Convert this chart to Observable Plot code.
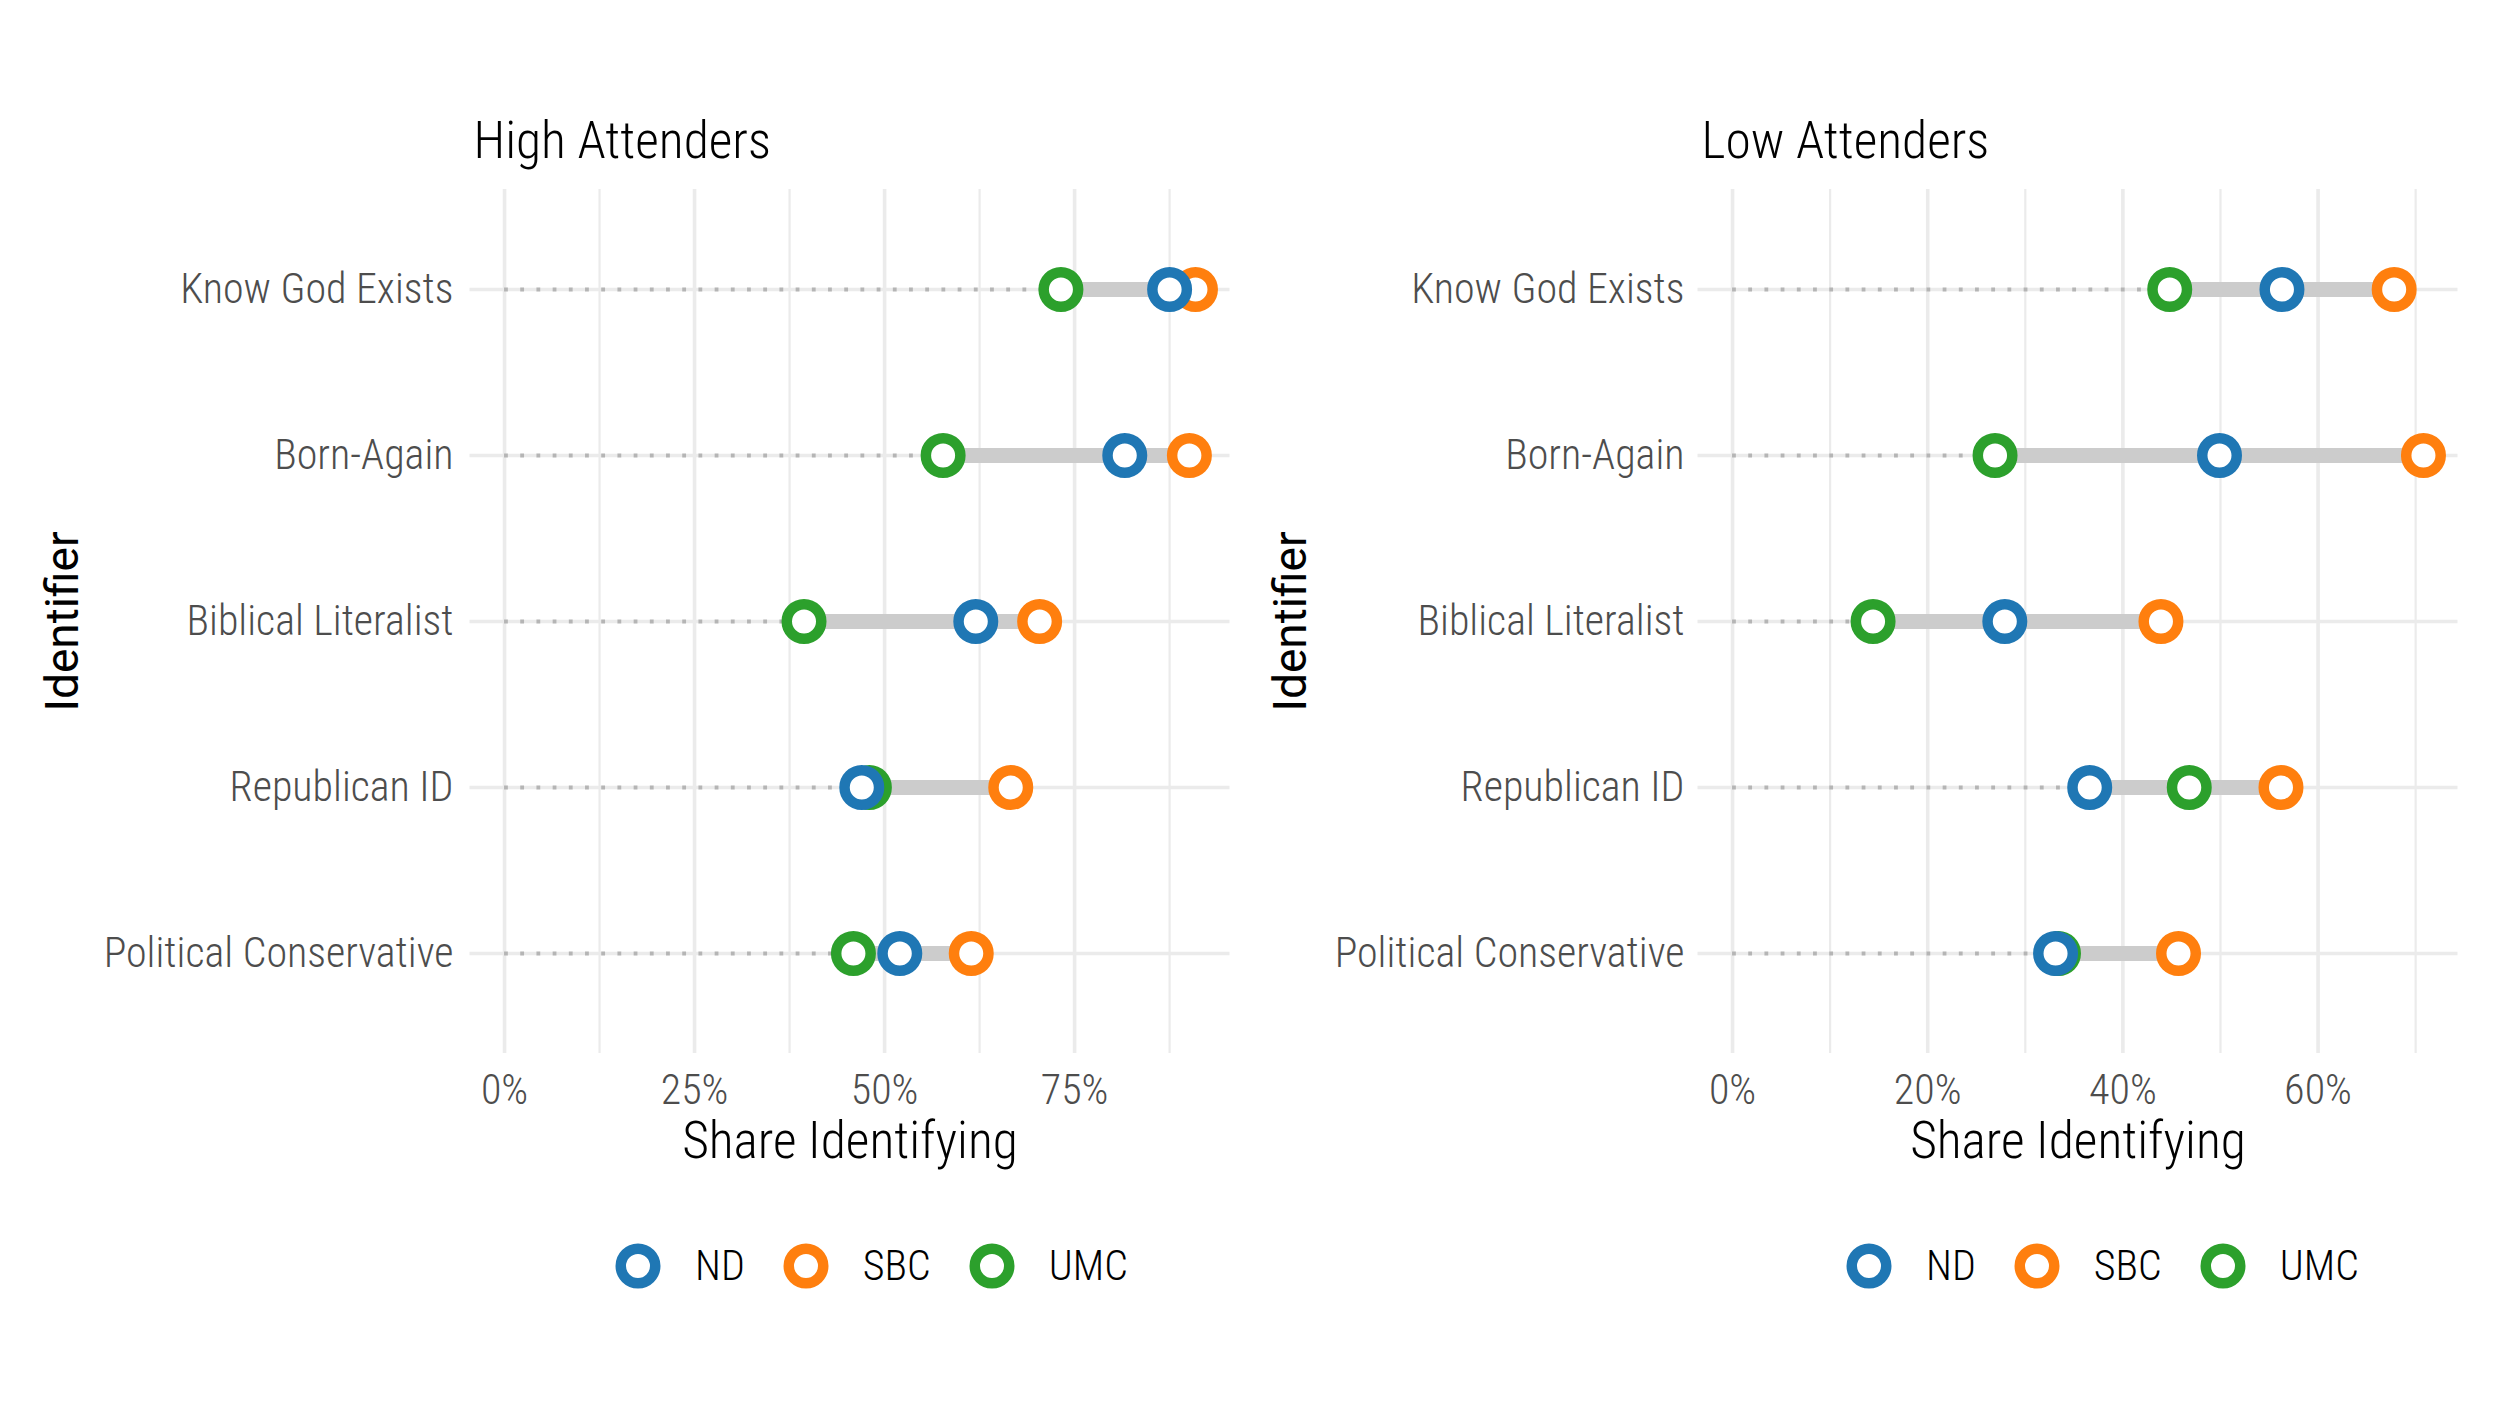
<!DOCTYPE html>
<html>
<head>
<meta charset="utf-8">
<script src="https://cdn.jsdelivr.net/npm/d3@7"></script>
<script src="https://cdn.jsdelivr.net/npm/@observablehq/plot@0.6"></script>
<style>
  html, body { margin: 0; padding: 0; background: white; }
  #root { position: relative; width: 2500px; height: 1420px; overflow: hidden; background: white; }
  #root svg.plotsvg { position: absolute; top: 0; }
  svg { font-stretch: condensed; }
  g[font-family="Roboto, sans-serif"] { font-stretch: normal; }
  .legend { position: absolute; display: flex; align-items: center; font-family: Roboto; font-stretch: condensed; font-weight: 300; font-size: 42px; color: black; }
  .legend .item { display: flex; align-items: center; margin-right: 38px; }
  .legend .item span { margin-left: 34px; }
</style>
</head>
<body>
<div id="root"></div>
<script>
// ---- data ----
const categories = ["Know God Exists", "Born-Again", "Biblical Literalist", "Republican ID", "Political Conservative"];
const groups = ["ND", "SBC", "UMC"];
const groupColors = ["#1f77b4", "#ff7f0e", "#2ca02c"];
const drawOrder = ["UMC", "SBC", "ND"];

// High attenders (share identifying), in category order
const highND  = [0.875, 0.816, 0.620, 0.470, 0.520];
const highSBC = [0.909, 0.901, 0.704, 0.666, 0.614];
const highUMC = [0.732, 0.577, 0.394, 0.480, 0.459];

// Low attenders
const lowND  = [0.563, 0.499, 0.279, 0.366, 0.331];
const lowSBC = [0.678, 0.708, 0.439, 0.562, 0.457];
const lowUMC = [0.448, 0.269, 0.144, 0.468, 0.334];

const highTicks = [0, 0.25, 0.5, 0.75];
const highMinor = [0.125, 0.375, 0.625, 0.875];
const lowTicks = [0, 0.2, 0.4, 0.6];
const lowMinor = [0.1, 0.3, 0.5, 0.7];

const titles = ["High Attenders", "Low Attenders"];
const xLabel = "Share Identifying";
const yLabel = "Identifier";

// ---- drawing ----
const root = document.getElementById("root");
const W = 1250, H = 1420;

function panel({series, ticks, minor, title, left, marginLeft, marginRight, labelPad, titleDx, legendOffset}) {
  const data = [];
  for (const g of drawOrder) {
    categories.forEach((c, i) => data.push({cat: c, group: g, value: series[g][i]}));
  }
  const rows = categories.map((c, i) => ({
    cat: c,
    min: d3.min(groups, g => series[g][i]),
    max: d3.max(groups, g => series[g][i])
  }));
  const vmax = d3.max(data, d => d.value);
  const pad = 0.05 * vmax;

  const chart = Plot.plot({
    width: W, height: H,
    marginLeft, marginRight, marginTop: 189, marginBottom: H - 1053,
    style: "font-family: Roboto; font-weight: 300; font-size: 42px; background: white;",
    x: {domain: [-pad, vmax + pad], label: null},
    y: {type: "point", domain: categories, padding: 0.6, label: null},
    color: {domain: groups, range: groupColors},
    marks: [
      Plot.ruleX(minor, {stroke: "#ebebeb", strokeWidth: 2.2}),
      Plot.ruleX(ticks, {stroke: "#ebebeb", strokeWidth: 3.6}),
      Plot.ruleY(categories, {stroke: "#ebebeb", strokeWidth: 3.6}),
      Plot.ruleY(rows, {y: "cat", x1: 0, x2: "min", stroke: "#b5b5b5", strokeWidth: 3.8, strokeDasharray: "3.8 12.4"}),
      Plot.ruleY(rows, {y: "cat", x1: "min", x2: "max", stroke: "#cccccc", strokeWidth: 15}),
      Plot.dot(data, {x: "value", y: "cat", stroke: "group", fill: "white", r: 17.25, strokeWidth: 10.5}),
      Plot.axisY({tickSize: 0, tickPadding: labelPad, fill: "#4d4d4d", fontSize: 42, label: null}),
      Plot.axisX({ticks, tickSize: 0, tickPadding: 21, tickFormat: d3.format(".0%"), fill: "#4d4d4d", fontSize: 42, label: null}),
      Plot.text([title], {frameAnchor: "top-left", textAnchor: "start", lineAnchor: "bottom", dx: titleDx, dy: -32, fontSize: 51.5, fill: "black"}),
      Plot.text([xLabel], {frameAnchor: "bottom", textAnchor: "middle", lineAnchor: "bottom", dy: 104, fontSize: 51.5, fill: "black"}),
      Plot.text([yLabel], {frameAnchor: "left", textAnchor: "middle", rotate: -90, lineAnchor: "bottom", dx: -392, fontSize: 46, fontFamily: "Roboto, sans-serif", fontWeight: 400, fill: "black"})
    ]
  });
  chart.classList.add("plotsvg");
  chart.style.left = left + "px";
  root.appendChild(chart);

  // legend
  const frameLeft = left + marginLeft;
  const lg = d3.select(root).append("div").attr("class", "legend")
    .style("left", (frameLeft + legendOffset) + "px").style("top", "1241px");
  groups.forEach((g, i) => {
    const item = lg.append("div").attr("class", "item");
    const s = item.append("svg").attr("width", 46).attr("height", 46);
    s.append("circle").attr("cx", 23).attr("cy", 23).attr("r", 17.25)
      .attr("fill", "white").attr("stroke", groupColors[i]).attr("stroke-width", 10.5);
    item.append("span").text(g);
  });
}

panel({series: {ND: highND, SBC: highSBC, UMC: highUMC}, ticks: highTicks, minor: highMinor, title: titles[0],
       left: 0, marginLeft: 469.5, marginRight: 20.5, labelPad: 16.5, titleDx: 3.5, legendOffset: 145.5});
panel({series: {ND: lowND, SBC: lowSBC, UMC: lowUMC}, ticks: lowTicks, minor: lowMinor, title: titles[1],
       left: 1250, marginLeft: 447.5, marginRight: 42.5, labelPad: 13.5, titleDx: 3.5, legendOffset: 148.5});
</script>
</body>
</html>
